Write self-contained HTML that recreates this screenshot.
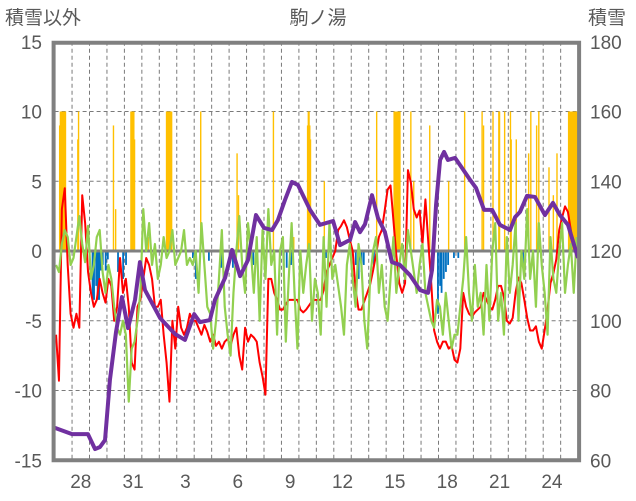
<!DOCTYPE html>
<html><head><meta charset="utf-8"><style>
body{margin:0;background:#fff;}
svg{display:block;font-family:"Liberation Sans","Noto Sans CJK JP",sans-serif;}
</style></head><body>
<svg id="chart" width="636" height="501" viewBox="0 0 636 501">
<text x="318" y="24" font-size="19" fill="#595959" text-anchor="middle">駒ノ湯</text>
<text x="5" y="24" font-size="19" fill="#595959">積雪以外</text>
<text x="588" y="24" font-size="19" fill="#595959">積雪</text>
<g id="grid"></g>
<g id="bars"></g>
<g id="lines"></g>
<g id="axes"></g>
</svg>
<script>
const leftTicks=[15,10,5,0,-5,-10,-15];
const rightTicks=[180,160,140,120,100,80,60];
const dayLabels=["27","28","29","30","31","1","2","3","4","5","6","7","8","9","10","11","12","13","14","15","16","17","18","19","20","21","22","23","24","25"];
const labelEvery=3;
// red series: 6 samples per day
const redVals=[-6,-9.3,3,4.5,-1,-4.5, -5.5,-4.5,-5.5,4,2,-1.5, -3,-4,-3.5,-2,-3,-3.7, -2,-2.5,-5,-4,-0.5,-3,
-2,-4,-8,-8.5,-4,-3.5, -2,-0.5,-1,-2,-4,-4, -3.5,-6,-8,-10.8,-5,-7, -4,-5.5,-6,-5.5,-4.5,-5,
-5,-5.5,-6,-5.3,-5.8,-6.5, -6,-6.8,-6.5,-7,-6.5,-6.3, -6.8,-6,-5.5,-7.5,-8.5,-5.5, -6.5,-6,-6.2,-6.5,-8,-9,
-10.3,-2,-2,-3,-3.5,-4.2, -4.2,-3.8,-3.5,-3.5,-3.5,-3.5, -4.2,-4.4,-4.2,-3.9,-3.6,-3.5, -3.5,-3.5,-2.8,-1.5,-1,-0.5,
0,1.5,1.8,2.2,1.7,0.8, 0,-2.8,-4.2,-4.2,-3.6,-3, -2.4,-1.4,-0.3,1,1.5,2.9, 4.4,4.7,2.2,-0.3,-2.3,-3,
-2.3,5.8,4.9,3,2.4,2.9, 0.5,3.7,0.6,-2.3,-5.7,-6.5, -7,-6.5,-6.5,-7,-6.8,-7.8, -8,-7,-3,-4,-4.5,-4.7,
-4.4,-4.2,-4,-3,-3.5,-4, -4.2,-3.5,-2.5,-2.5,-3.3,-5, -5.2,-4.8,-3,-1.9,-2.3,-3.5, -4.8,-5.7,-5.7,-5.4,-6.5,-7,
-5.7,-4.2,-2.3,-1.6,-0.6,1.5, 2.4,3.2,2.8,1.5,0.3,0];
// green series: 6 samples per day
const greenVals=[-1,-1.5,0.5,1.5,1,-1, -0.5,1,2.5,0.5,-0.8,1.8, -2,-1,1,1.5,-1.5,-3, -1,-2,-4,-5.5,-6,-5,
-6,-10.8,-7,-6.5,-5,-3, 3,0,2,-1,0.5,-2, -1,1,-0.5,0,1.5,-1, -0.5,0,1.5,-1,-0.5,-1,
0,-3,2,-1,-4,-4.5, -7,-5,-2,1.5,-4,-6, -7.5,-3,0,2.5,-1,-3, 2,0,-3,1,-5,1.5,
-2,3,-1,0,-6,0, 1,-6.5,-2,2,-3,-7, 0,-3,-1,0.5,-5,-2, -3,-6,1,-4,2,-2,
-1,-2.5,-4,-6,-1,0.5, -2,-4,0.5,-1,-5,-7, -2,0,1,-3,-1,-4, -5,-2,1,-3,-1,0.5,
-2,1.5,0,-1.5,-3,-1, 0.5,-3,-4,-5,-5.5,-3.5, -4,-6,-3,-5,-7,-6, -6,-4,-2,1,-3,-5,
-1,-4,-3,-6,-1,-5, 0,2,-5,-3,-6,1, -3,-1,2,-5,0,-2, 3,-2,0,-4,2,-1,
-3,-6,1,-2,-3,0, 2,-3,-1,0.5,-3,1];
// snow depth (cm): time in days, value
const snowT=[0.02,1.0,1.91,2.32,2.6,2.89,3.17,3.52,3.86,4.21,4.61,4.89,5.18,6.04,6.9,7.47,8.0,8.33,8.9,9.19,9.77,10.17,10.63,11.08,11.54,12.0,12.46,12.8,13.2,13.6,13.95,14.64,15.21,15.96,16.36,16.93,17.22,17.5,17.79,18.19,18.53,18.93,19.33,19.79,20.36,20.94,21.4,21.63,21.86,22.09,22.32,22.54,22.95,23.35,23.81,24.15,24.61,25.07,25.52,26.1,26.39,26.67,27.07,27.53,28.1,28.56,28.96,29.42,29.82,29.99];
const snowV=[69.3,67.5,67.5,63.2,63.8,65.8,83,96.8,106.8,97.9,106,116.8,108.8,100.8,96.2,94.5,101.9,99.6,100.2,106,112.3,120.3,112.8,117.4,130.3,126.6,126,128.9,134.6,139.8,138.9,131.8,127.5,128.6,121.7,123.2,128.3,125.4,127.7,136,129.5,125.4,116.8,116,113.1,108.8,108,114.6,133.2,146.1,148.4,146.1,146.7,143.8,140.4,138.1,131.8,131.8,127.5,126,129.7,131.2,135.8,135.5,130.3,133.8,130.3,127.5,120.9,118];
// precipitation bars: hour from start, value
const precipH=[6,7,8,9,10,11,12,13,14,31,32,80,83,104,105,106,107,108,109,128,153,154,155,156,157,158,159,160,200,250,252,300,328,347,348,349,350,351,370,442,466,467,468,469,470,471,472,473,474,489,493,515,541,563,587,589,602,610,611,618,626,627,634,651,654,662,665,679,685,690,706,707,708,709,710,711,712,713,714,715,716,717,718,719];
const precipV=[9,10,10,10,10,10,10,10,10,8,10,9,3,10,10,10,10,10,8,1,10,10,10,10,10,10,10,10,10,7,4,10,1,9,10,10,9,8,5,10,10,10,10,10,10,10,10,10,10,10,5,9,5,10,10,9,10,10,10,10,10,8,8,7,10,9,10,6,4,7,10,10,10,10,10,10,10,10,10,10,10,10,10,10];
// negative (melt) bars: hour from start, value
const meltH=[51,53,56,58,60,62,65,69,72,86,93,97,189,193,211,228,244,272,287,314,318,324,372,413,417,421,424,438,526,529,531,534,537,540,548,554,622,643,668];
const meltV=[-3.5,-3.5,-2.5,-3.5,-3.5,-1.4,-1,-1.4,-0.6,-1.5,-2,-1,-0.5,-2,-0.7,-1.2,-1.2,-1,-0.6,-1.5,-1.2,-1,-0.5,-1,-2,-1.5,-1,-1,-4.5,-2.5,-3,-2,-1.5,-1,-0.5,-0.5,-0.7,-1,-0.5];

const NS='http://www.w3.org/2000/svg';
const X0=54.6, DAYW=17.45, NDAYS=30, Y0=251, PXU=13.95;
const xDay=d=>X0+d*DAYW;
const xHour=h=>X0+h*DAYW/24;
const yL=v=>Y0-v*PXU;
const yR=s=>yL((s-120)/4);
function mk(tag,attrs,parent){const e=document.createElementNS(NS,tag);for(const k in attrs)e.setAttribute(k,attrs[k]);parent.appendChild(e);return e;}
const grid=document.getElementById('grid'),bars=document.getElementById('bars'),lines=document.getElementById('lines'),axes=document.getElementById('axes');

leftTicks.forEach(v=>{
  if(v!==0&&Math.abs(v)<15){
    const l=mk('line',{x1:X0,x2:xDay(NDAYS),y1:yL(v),y2:yL(v),stroke:'#7a7a7a','stroke-width':1,'stroke-dasharray':'4,3'},grid);
    
    
  }
  const t=mk('text',{x:42,y:yL(v)+7,'font-size':19,fill:'#595959','text-anchor':'end'},axes);
  t.textContent=v;
  
  
});
rightTicks.forEach(s=>{
  const t=mk('text',{x:590,y:yR(s)+7,'font-size':19,fill:'#595959'},axes);
  t.textContent=s;
  
  
});
for(let d=1;d<NDAYS;d++){
  const l=mk('line',{x1:xDay(d),x2:xDay(d),y1:yL(15),y2:yL(-15),stroke:'#7a7a7a','stroke-width':1,'stroke-dasharray':'4,3'},grid);
  
  
}
dayLabels.forEach((lab,i)=>{
  if(i%labelEvery!==1)return;
  const t=mk('text',{x:xDay(i+0.5),y:488,'font-size':19,fill:'#595959','text-anchor':'middle'},axes);
  t.textContent=lab;
  
  
});
const BW=Math.max(DAYW/24+0.3,1.4);
precipH.forEach((h,i)=>{
  const v=Math.min(precipV[i],10);
  const r=mk('rect',{x:xHour(h),y:yL(v),width:BW,height:yL(0)-yL(v),fill:'#FFC000'},bars);
  
  
});
meltH.forEach((h,i)=>{
  const r=mk('rect',{x:xHour(h),y:yL(0),width:BW+0.4,height:yL(meltV[i])-yL(0),fill:'#0070C0'},bars);
  
  
});
const zl=mk('line',{x1:X0,x2:xDay(NDAYS),y1:yL(0),y2:yL(0),stroke:'#808080','stroke-width':3},bars);


function series(vals,color,w,name){
  const step=1/6;
  const pts=vals.map((v,i)=>xDay(i*step+step/2).toFixed(2)+','+yL(v).toFixed(2)).join(' ');
  const p=mk('polyline',{points:pts,fill:'none',stroke:color,'stroke-width':w,'stroke-linejoin':'round'},lines);
  
  
}
series(redVals,'#FF0000',2,'temperature-line');
series(greenVals,'#92D050',2.2,'green-series-line');
const sp=snowT.map((t,i)=>xDay(t).toFixed(2)+','+yR(snowV[i]).toFixed(2)).join(' ');
const snow=mk('polyline',{points:sp,fill:'none',stroke:'#7030A0','stroke-width':4,'stroke-linejoin':'round'},lines);


const border=mk('rect',{x:X0-1,y:yL(15)+1,width:xDay(NDAYS)-X0+2,height:yL(-15)-yL(15)-1,fill:'none',stroke:'#808080','stroke-width':4},axes);


</script>
</body></html>
